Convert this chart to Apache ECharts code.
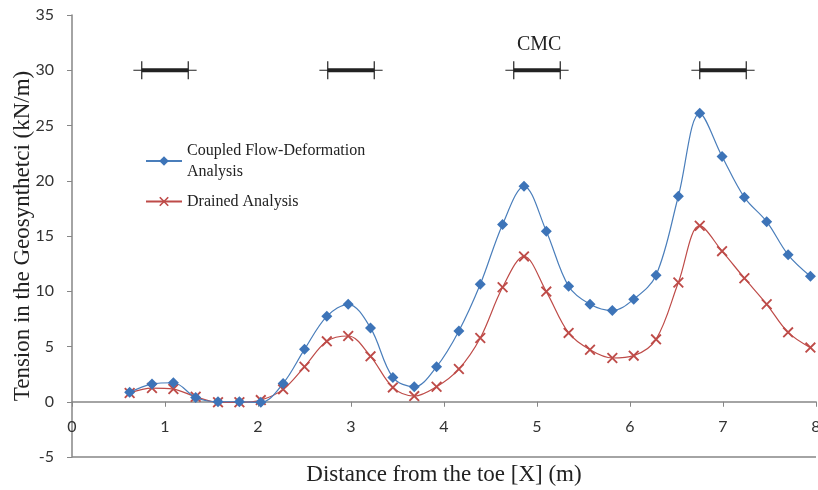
<!DOCTYPE html>
<html>
<head>
<meta charset="utf-8">
<script src="https://cdn.jsdelivr.net/npm/echarts@6/dist/echarts.min.js"></script>
<style>
html, body { margin: 0; padding: 0; background: #fff; }
#main { width: 818px; height: 490px; }
</style>
</head>
<body>
<div id="main"></div>
<script>
// distance from the toe (m)
var dist = [0.62, 0.86, 1.09, 1.33, 1.57, 1.80, 2.03, 2.27, 2.50, 2.74, 2.97, 3.21, 3.45, 3.68, 3.92,
	4.16, 4.39, 4.63, 4.86, 5.10, 5.34, 5.57, 5.81, 6.04, 6.28, 6.52, 6.75, 6.99, 7.23, 7.47, 7.70, 7.94];
// tension (kN/m)
var coupled = [0.85, 1.6, 1.72, 0.39, 0.0, 0.0, -0.05, 1.66, 4.74, 7.73, 8.82, 6.68, 2.2, 1.36, 3.17,
	6.41, 10.63, 16.05, 19.5, 15.44, 10.45, 8.82, 8.25, 9.28, 11.45, 18.6, 26.1, 22.2, 18.5, 16.3, 13.3, 11.36];
var drained = [0.79, 1.24, 1.15, 0.45, -0.05, -0.05, 0.15, 1.12, 3.17, 5.47, 5.95, 4.11, 1.3, 0.51, 1.36,
	2.96, 5.77, 10.36, 13.15, 9.97, 6.23, 4.71, 3.96, 4.17, 5.65, 10.79, 15.93, 13.63, 11.18, 8.82, 6.28, 4.9];
// CMC columns
var cmcStart = [0.75, 2.75, 4.75, 6.75];
var cmcEnd = [1.25, 3.25, 5.25, 7.25];
var cmcLevel = 30;
var cmcOver = 0.09;
var yTicks = [-5, 0, 5, 10, 15, 20, 25, 30, 35];
var xTicks = [0, 1, 2, 3, 4, 5, 6, 7, 8];

function pairs (xs, ys) {
	var out = [];
	for (var i = 0; i < xs.length; i++) out.push([xs[i], ys[i]]);
	return out;
}

var cmcData = [];
for (var i = 0; i < cmcStart.length; i++) cmcData.push([cmcStart[i], cmcEnd[i], cmcLevel]);

var cc = echarts.init(document.getElementById('main'));
var serif = '"Liberation Serif", "Times New Roman", serif';
var sans = 'Lato, "Liberation Sans", sans-serif';
var blue = '#4A7EBB';
var red = '#BE4B48';
var axisGray = '#868686';

var op = {
	animation: false,
	grid: { left: 72, right: 2, top: 15, bottom: 33, outerBoundsMode: 'none', containLabel: false },
	legend: {
		orient: 'vertical',
		left: 145,
		top: 140,
		padding: 0,
		itemWidth: 36,
		itemHeight: 12,
		itemGap: 9,
		textStyle: { fontFamily: serif, fontSize: 16, color: '#222', lineHeight: 21 },
		formatter: function (n) {
			return n === 'Coupled Flow-Deformation Analysis' ? 'Coupled Flow-Deformation\nAnalysis' : n;
		},
		data: ['Coupled Flow-Deformation Analysis', 'Drained Analysis']
	},
	xAxis: {
		type: 'value',
		min: xTicks[0], max: xTicks[xTicks.length - 1], interval: 1,
		axisLine: { onZero: true, lineStyle: { color: axisGray, width: 1.5 } },
		axisTick: { show: true, length: 5, lineStyle: { color: axisGray } },
		axisLabel: { margin: -38, fontFamily: sans, fontSize: 16, color: '#333' },
		splitLine: { show: false },
		name: 'Distance from the toe [X] (m)',
		nameLocation: 'middle',
		nameGap: 6,
		nameMoveOverlap: false,
		nameTextStyle: { fontFamily: serif, fontSize: 23, color: '#222', verticalAlign: 'top' }
	},
	yAxis: {
		type: 'value',
		min: yTicks[0], max: yTicks[yTicks.length - 1], interval: 5,
		axisLine: { show: true, onZero: false, lineStyle: { color: axisGray, width: 1.5 } },
		axisTick: { show: true, length: 5, lineStyle: { color: axisGray } },
		axisLabel: { margin: 18, fontFamily: sans, fontSize: 16, color: '#333' },
		splitLine: { show: false },
		name: 'Tension in the Geosynthetci (kN/m)',
		nameLocation: 'middle',
		nameGap: 38,
		nameMoveOverlap: false,
		nameTextStyle: { fontFamily: serif, fontSize: 23, color: '#222' }
	},
	graphic: [{
		type: 'text',
		left: 517, top: 35,
		style: { text: 'CMC', fontFamily: serif, fontSize: 20, fill: '#222' }
	}],
	series: [{
		name: 'Coupled Flow-Deformation Analysis',
		type: 'line',
		smooth: 0.35,
		data: pairs(dist, coupled),
		symbol: 'diamond',
		symbolSize: 11,
		lineStyle: { color: blue, width: 1.2 },
		itemStyle: { color: '#3D74B8', borderColor: '#3D74B8', borderWidth: 0 },
		z: 3
	}, {
		name: 'Drained Analysis',
		type: 'line',
		smooth: 0.35,
		data: pairs(dist, drained),
		symbol: 'path://M0,1.2L1.2,0L10,8.8L8.8,10ZM8.8,0L10,1.2L1.2,10L0,8.8Z',
		symbolSize: 11,
		lineStyle: { color: red, width: 1.2 },
		itemStyle: { color: red, borderWidth: 0 },
		z: 2
	}, {
		type: 'custom',
		silent: true,
		data: cmcData,
		renderItem: function (params, api) {
			var a = api.coord([api.value(0), api.value(2)]);
			var b = api.coord([api.value(1), api.value(2)]);
			var a0 = api.coord([api.value(0) - cmcOver, api.value(2)]);
			var b0 = api.coord([api.value(1) + cmcOver, api.value(2)]);
			return {
				type: 'group',
				children: [
					{ type: 'line', shape: { x1: a0[0], y1: a0[1], x2: b0[0], y2: b0[1] }, style: { stroke: '#222', lineWidth: 1.2 } },
					{ type: 'line', shape: { x1: a[0], y1: a[1], x2: b[0], y2: b[1] }, style: { stroke: '#222', lineWidth: 4 } },
					{ type: 'line', shape: { x1: a[0], y1: a[1] - 9, x2: a[0], y2: a[1] + 9 }, style: { stroke: '#222', lineWidth: 1.2 } },
					{ type: 'line', shape: { x1: b[0], y1: b[1] - 9, x2: b[0], y2: b[1] + 9 }, style: { stroke: '#222', lineWidth: 1.2 } }
				]
			};
		},
		markLine: {
			silent: true,
			symbol: 'none',
			label: { show: false },
			lineStyle: { color: axisGray, width: 1.5, type: 'solid' },
			data: [{ yAxis: yTicks[0] }]
		}
	}]
};

cc.setOption(op);
</script>
</body>
</html>
